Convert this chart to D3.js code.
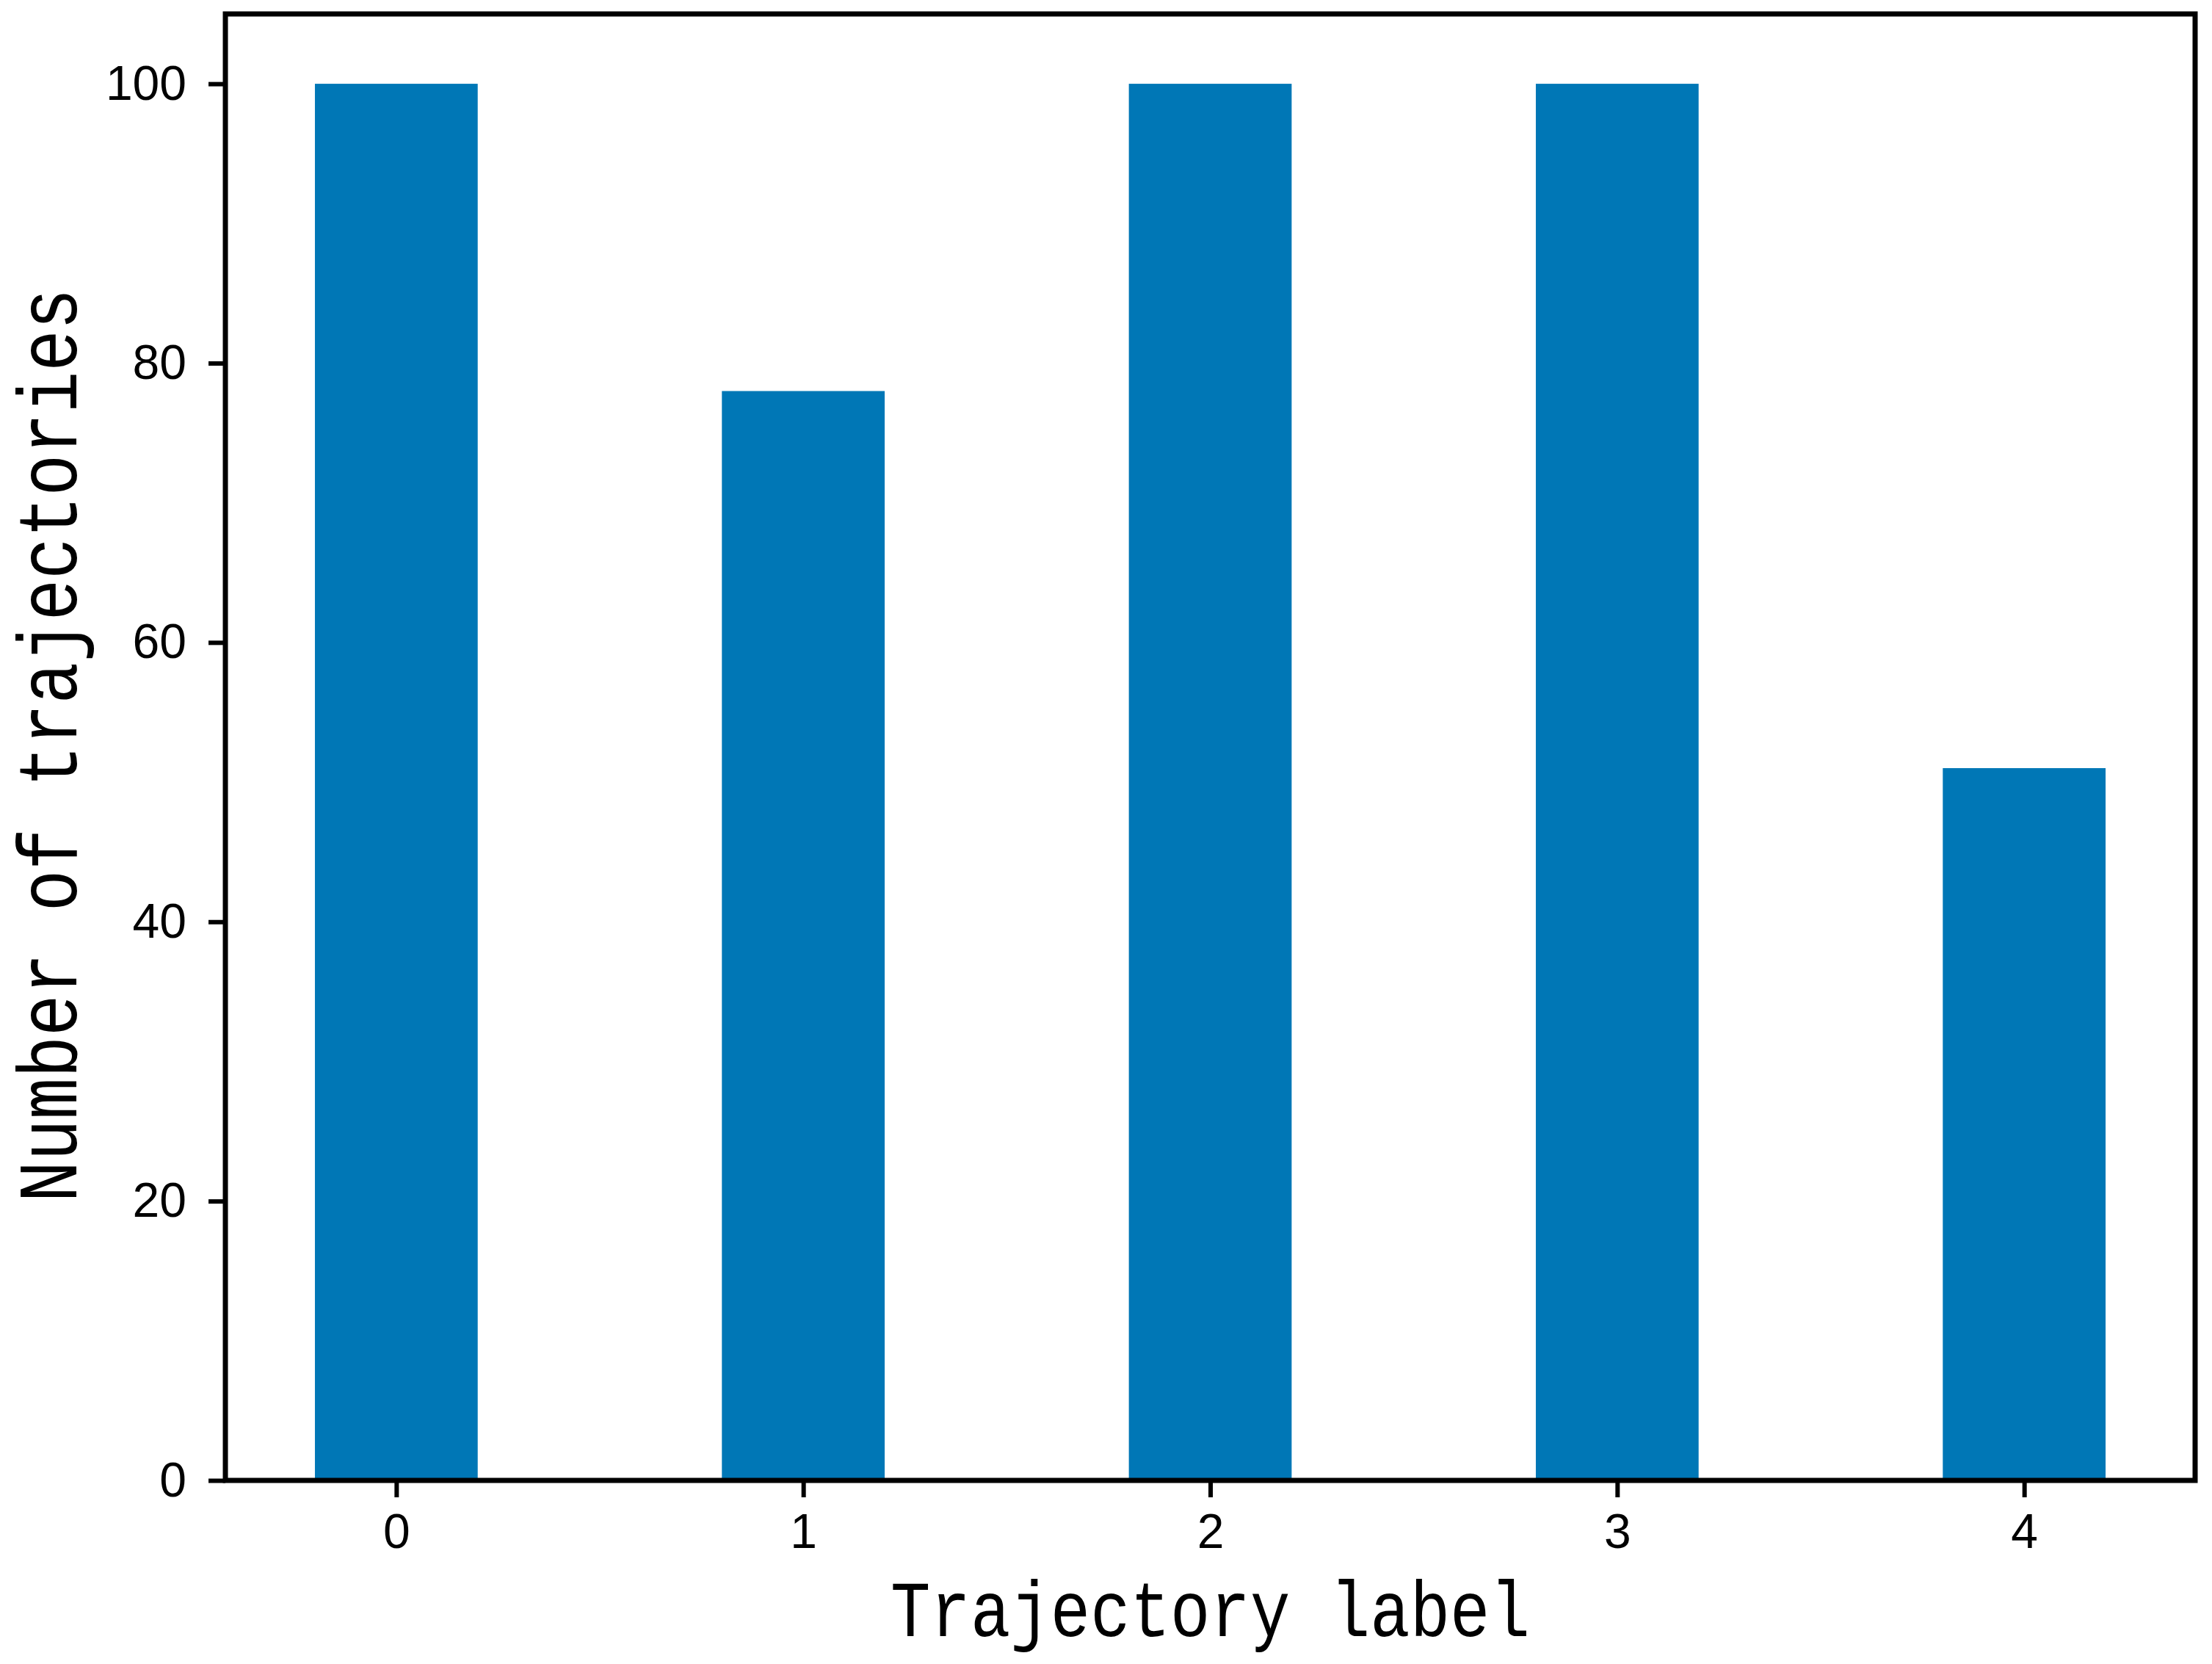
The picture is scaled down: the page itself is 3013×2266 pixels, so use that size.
<!DOCTYPE html>
<html>
<head>
<meta charset="utf-8">
<script src="https://cdn.jsdelivr.net/npm/d3@7"></script>
<style>
  html, body { margin: 0; padding: 0; background: #fff; }
</style>
</head>
<body>
<div id="chart"></div>
<script>
// データ
var labels = [0, 1, 2, 3, 4];
var counts = [100, 78, 100, 100, 51];
var yTicks = [0, 20, 40, 60, 80, 100];

var width = 3013,
  height = 2266;
var padding = { top: 19, right: 23, bottom: 250, left: 307 };
var barColor = "#0077b6";
var barWidth = 0.4;

var svg = d3
  .select("#chart")
  .append("svg")
  .attr("width", width)
  .attr("height", height)
  .style("background", "#fff");

// X軸 (matplotlib風に5%の余白)
var xMin = labels[0] - barWidth / 2,
  xMax = labels[labels.length - 1] + barWidth / 2;
var xPad = (xMax - xMin) * 0.05;
var xScale = d3
  .scaleLinear()
  .domain([xMin - xPad, xMax + xPad])
  .range([padding.left, width - padding.right]);

var yScale = d3
  .scaleLinear()
  .domain([0, d3.max(counts) * 1.05])
  .range([height - padding.bottom, padding.top]);

// バー
svg
  .selectAll("rect.bar")
  .data(labels)
  .enter()
  .append("rect")
  .attr("class", "bar")
  .attr("x", function (d) {
    return xScale(d - barWidth / 2);
  })
  .attr("y", function (d, i) {
    return yScale(counts[i]);
  })
  .attr("width", function (d) {
    return xScale(d + barWidth / 2) - xScale(d - barWidth / 2);
  })
  .attr("height", function (d, i) {
    return yScale(0) - yScale(counts[i]);
  })
  .attr("fill", barColor);

var xAxis = d3
  .axisBottom(xScale)
  .tickValues(labels)
  .tickFormat(d3.format("d"))
  .tickSize(23)
  .tickSizeOuter(0)
  .tickPadding(22);
var gX = svg
  .append("g")
  .attr("transform", "translate(0," + (height - padding.bottom) + ")")
  .call(xAxis);

var yAxis = d3
  .axisLeft(yScale)
  .tickValues(yTicks)
  .tickSize(23)
  .tickSizeOuter(0)
  .tickPadding(30);
var gY = svg
  .append("g")
  .attr("transform", "translate(" + padding.left + ",0)")
  .call(yAxis);

[gX, gY].forEach(function (g) {
  g.select(".domain").remove();
  g.selectAll(".tick line").attr("stroke", "#000").attr("stroke-width", 6);
  g.selectAll(".tick text")
    .attr("fill", "#000")
    .style("font-family", "'Liberation Sans', Arial, sans-serif")
    .style("font-size", "66px");
});

// 枠線
svg
  .append("rect")
  .attr("x", padding.left)
  .attr("y", padding.top)
  .attr("width", width - padding.left - padding.right)
  .attr("height", height - padding.top - padding.bottom)
  .attr("fill", "none")
  .attr("stroke", "#000")
  .attr("stroke-width", 7);

// 軸ラベル（横方向を少し詰める）
var labelFont = "'Liberation Mono', 'DejaVu Sans Mono', monospace";
svg
  .append("text")
  .text("Trajectory label")
  .attr(
    "transform",
    "translate(" + (padding.left + width - padding.right) / 2 + ",2228) scale(0.84,1)"
  )
  .attr("text-anchor", "middle")
  .style("font-family", labelFont)
  .style("font-size", "108px");

svg
  .append("text")
  .text("Number of trajectories")
  .attr("transform", "translate(104,1015) rotate(-90) scale(0.82,1)")
  .attr("text-anchor", "middle")
  .style("font-family", labelFont)
  .style("font-size", "115px");
</script>
</body>
</html>
